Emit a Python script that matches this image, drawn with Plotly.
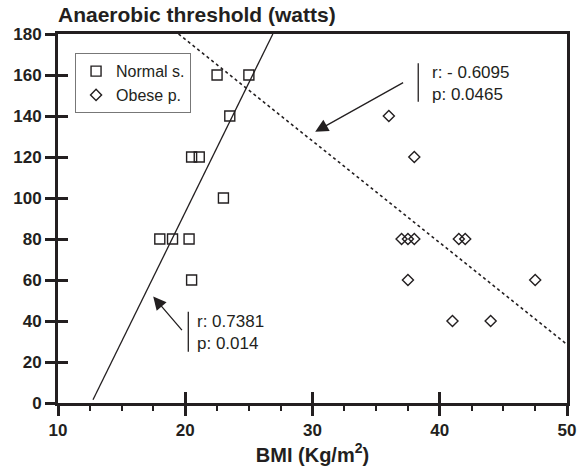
import numpy as np
import plotly.graph_objects as go

# BMI (kg/m^2) and anaerobic threshold (watts) for each group
normal_bmi = [18.0, 19.0, 20.3, 20.5, 20.5, 21.1, 23.0, 23.5, 22.5, 25.0]
normal_at = [80, 80, 80, 60, 120, 120, 100, 140, 160, 160]

obese_bmi = [36.0, 38.0, 37.0, 37.5, 38.0, 41.5, 42.0, 37.5, 47.5, 41.0, 44.0]
obese_at = [140, 120, 80, 80, 80, 80, 80, 60, 60, 40, 40]

x_ticks = [10, 20, 30, 40, 50]
y_ticks = [0, 20, 40, 60, 80, 100, 120, 140, 160, 180]
X_RANGE = [10, 50]
Y_RANGE = [0, 180]

normal_stats = "r: 0.7381<br>p: 0.014"
obese_stats = "r: - 0.6095<br>p: 0.0465"

FONT = "Liberation Sans"
INK = "#231f20"

# least-squares fits for each group
n_slope, n_icpt = np.polyfit(normal_bmi, normal_at, 1)
o_slope, o_icpt = np.polyfit(obese_bmi, obese_at, 1)

n_x0 = 12.75
n_x1 = float((Y_RANGE[1] - n_icpt) / n_slope)
n_fit_x = [n_x0, n_x1]
n_fit_y = [float(n_slope * v + n_icpt) for v in n_fit_x]

o_x0 = float((Y_RANGE[1] - o_icpt) / o_slope)
o_x1 = X_RANGE[1]
o_fit_x = [o_x0, o_x1]
o_fit_y = [float(o_slope * v + o_icpt) for v in o_fit_x]

fig = go.Figure()

fig.add_trace(go.Scatter(
    x=n_fit_x, y=n_fit_y, mode="lines", showlegend=False,
    line=dict(color=INK, width=1.3),
))
fig.add_trace(go.Scatter(
    x=o_fit_x, y=o_fit_y, mode="lines", showlegend=False,
    line=dict(color=INK, width=1.6, dash="dot"),
))
fig.add_trace(go.Scatter(
    x=normal_bmi, y=normal_at, mode="markers", name="Normal s.",
    marker=dict(symbol="square-open", size=10, color=INK, line=dict(width=1.4)),
))
fig.add_trace(go.Scatter(
    x=obese_bmi, y=obese_at, mode="markers", name="Obese p.",
    marker=dict(symbol="diamond-open", size=8.5, color=INK, line=dict(width=1.4)),
))
# transparent trace on the overlaid axes that draw the inner half of each tick
fig.add_trace(go.Scatter(
    x=X_RANGE, y=Y_RANGE, xaxis="x2", yaxis="y2", mode="markers",
    marker=dict(opacity=0), showlegend=False, hoverinfo="skip",
))

tick_font = dict(family=FONT, size=17, color=INK, weight="bold")
frame = dict(showline=True, linewidth=3, linecolor=INK, mirror=True,
             ticks="outside", ticklen=10, tickwidth=3, tickcolor=INK,
             showgrid=False, zeroline=False, automargin=False)

fig.update_layout(
    template="none",
    width=580, height=473,
    margin=dict(l=58, r=13, t=34, b=70, autoexpand=False),
    paper_bgcolor="white", plot_bgcolor="white",
    title=dict(
        text="Anaerobic threshold (watts)",
        font=dict(family=FONT, size=21, color=INK, weight="bold"),
        xref="paper", x=0, xanchor="left",
        yref="container", y=0.968, yanchor="middle",
    ),
    xaxis=dict(
        range=X_RANGE, tickmode="array", tickvals=x_ticks,
        tickfont=tick_font,
        minor=dict(dtick=2.5, ticks="outside", ticklen=5, tickwidth=2,
                   tickcolor=INK, showgrid=False),
        title=dict(
            text="BMI (Kg/m<sup>2</sup>)", standoff=6,
            font=dict(family=FONT, size=20, color=INK, weight="bold"),
        ),
        **frame,
    ),
    yaxis=dict(
        range=Y_RANGE, tickmode="array", tickvals=y_ticks,
        tickfont=tick_font,
        **frame,
    ),
    xaxis2=dict(
        overlaying="x", anchor="y", side="bottom", range=X_RANGE, automargin=False,
        tickmode="array", tickvals=x_ticks, showticklabels=False,
        showgrid=False, zeroline=False, showline=False,
        ticks="inside", ticklen=11, tickwidth=3, tickcolor=INK,
    ),
    yaxis2=dict(
        overlaying="y", anchor="x", side="left", range=Y_RANGE, automargin=False,
        tickmode="array", tickvals=y_ticks, showticklabels=False,
        showgrid=False, zeroline=False, showline=False,
        ticks="inside", ticklen=10, tickwidth=3, tickcolor=INK,
    ),
    legend=dict(
        x=0.0335, y=0.948, xanchor="left", yanchor="top",
        bgcolor="white", bordercolor="#777", borderwidth=1,
        font=dict(family=FONT, size=16, color=INK),
    ),
)

# arrows pointing at the fitted lines
arrow_style = dict(
    xref="x", yref="y", axref="x", ayref="y", text="", showarrow=True,
    arrowhead=2, arrowsize=2, arrowwidth=1.3, arrowcolor=INK,
)
fig.add_annotation(x=17.48, y=51.9, ax=19.84, ay=34.8, **arrow_style)
fig.add_annotation(x=30.21, y=132.3, ax=37.24, ay=156.7, **arrow_style)

# correlation statistics with a bar on the left
stat_font = dict(family=FONT, size=17, color=INK)
fig.add_annotation(x=20.75, y=34.6, xref="x", yref="y", text=normal_stats,
                   showarrow=False, xanchor="left", yanchor="middle",
                   align="left", font=stat_font)
fig.add_annotation(x=39.2, y=155.8, xref="x", yref="y", text=obese_stats,
                   showarrow=False, xanchor="left", yanchor="middle",
                   align="left", font=stat_font)
fig.add_shape(type="line", xref="x", yref="y", x0=20.24, x1=20.24, y0=25.0, y1=44.5,
              line=dict(color=INK, width=1.3))
fig.add_shape(type="line", xref="x", yref="y", x0=38.31, x1=38.31, y0=147.0, y1=165.7,
              line=dict(color=INK, width=1.3))

fig.write_html("out.html")
